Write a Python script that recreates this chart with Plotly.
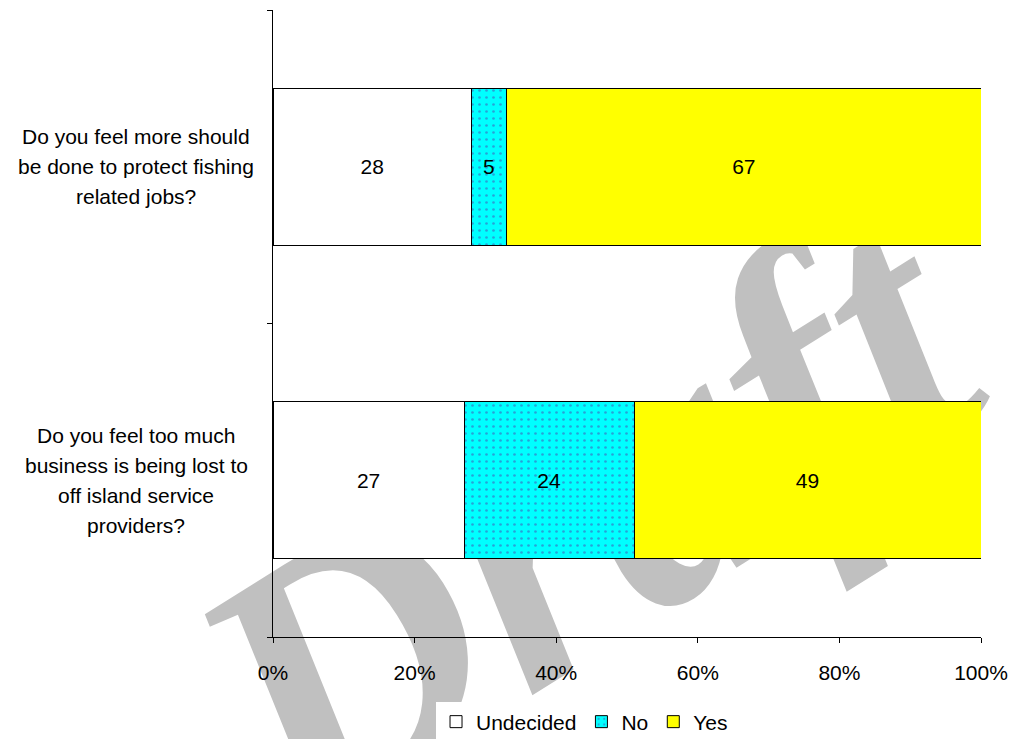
import base64
import plotly.graph_objects as go

questions = [
    "Do you feel too much<br>business is being lost to<br>off island service<br>providers?",
    "Do you feel more should<br>be done to protect fishing<br>related jobs?",
]
undecided = [27, 28]
no = [24, 5]
yes = [49, 67]
x_ticks = [0, 20, 40, 60, 80, 100]
x_labels = ["0%", "20%", "40%", "60%", "80%", "100%"]

FONT = "Arial, Liberation Sans, sans-serif"
FS = 21
W, H = 1013, 739
L, R, T, B = 273, 32, 10, 102
PW, PH = W - L - R, H - T - B

# grey "Draft" watermark drawn behind the plot
svg = (
    f'<svg xmlns="http://www.w3.org/2000/svg" width="{W}" height="{H}">'
    '<text x="648" y="623" text-anchor="middle" transform="rotate(-32 648 623)" '
    'font-family="Liberation Serif" font-style="italic" font-weight="bold" '
    'font-size="370" fill="#c0c0c0">Draft</text></svg>'
)
svg_uri = "data:image/svg+xml;base64," + base64.b64encode(svg.encode()).decode()

fig = go.Figure()
fig.add_bar(
    y=questions, x=undecided, name="Undecided", orientation="h",
    marker=dict(color="white", line=dict(color="black", width=1)),
    text=undecided,
)
fig.add_bar(
    y=questions, x=no, name="No", orientation="h",
    marker=dict(color="#00ffff", line=dict(color="black", width=1),
                pattern=dict(shape=".", fgcolor="#4a4ab0", size=7, solidity=0.12)),
    text=no,
)
fig.add_bar(
    y=questions, x=yes, name="Yes", orientation="h",
    marker=dict(color="#ffff00", line=dict(color="black", width=1)),
    text=yes,
)
fig.update_traces(
    textposition="inside", insidetextanchor="middle", textangle=0,
    constraintext="none", textfont=dict(size=FS, color="black", family=FONT),
)

# category labels: centred lines, Excel-like line spacing
for q in questions:
    lines = q.split("<br>")
    n = len(lines)
    for i, line in enumerate(lines):
        fig.add_annotation(
            x=0, xref="paper", y=q, yref="y", text=line, showarrow=False,
            xanchor="center", yanchor="middle", xshift=-20 - 117,
            yshift=((n - 1) / 2 - i) * 30, font=dict(size=FS),
        )

fig.update_layout(
    width=W, height=H,
    barmode="stack", bargap=0.5,
    paper_bgcolor="white", plot_bgcolor="rgba(0,0,0,0)",
    margin=dict(l=L, r=R, t=T, b=B, autoexpand=False),
    font=dict(family=FONT, size=FS, color="black"),
    legend=dict(orientation="h", x=0.44, xanchor="center",
                yref="container", y=0.023, yanchor="middle",
                font=dict(size=FS), itemwidth=30, traceorder="normal"),
    images=[dict(source=svg_uri, xref="paper", yref="paper",
                 x=-L / PW, y=1 + T / PH, sizex=W / PW, sizey=H / PH,
                 xanchor="left", yanchor="top", sizing="stretch", layer="below")],
)
fig.update_xaxes(
    range=[0, 100], tickmode="array", tickvals=x_ticks, ticktext=x_labels,
    showline=True, linecolor="black", linewidth=1,
    ticks="outside", ticklen=5, tickcolor="black", ticklabeloverflow="allow",
    showgrid=False, zeroline=False, ticklabelstandoff=12,
)
fig.update_yaxes(
    showline=True, linecolor="black", linewidth=1,
    ticks="outside", ticklen=5, tickcolor="black", tickson="boundaries",
    showgrid=False, showticklabels=False,
)

# drop the default 8px body margin so the figure fills the window exactly
fig.write_html("out.html", config={"displayModeBar": False},
               post_script="document.body.style.margin = '0';")
